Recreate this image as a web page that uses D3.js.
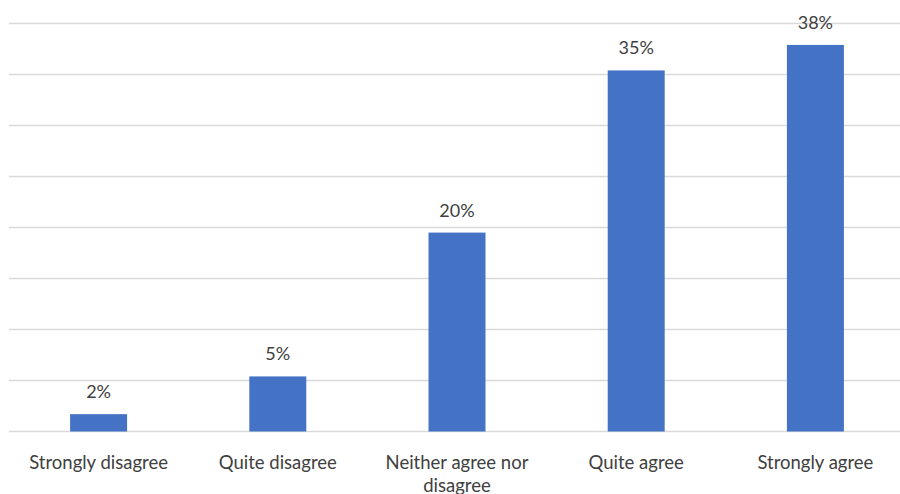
<!DOCTYPE html>
<html><head><meta charset="utf-8">
<script src="https://cdn.jsdelivr.net/npm/d3@7"></script>
<style>html,body{margin:0;padding:0;background:#fff;overflow:hidden}</style>
</head><body>
<svg id="c" width="900" height="494"></svg>
<script>
const categories = ["Strongly disagree", "Quite disagree", "Neither agree nor disagree", "Quite agree", "Strongly agree"];
const values = [1.7, 5.4, 19.5, 35.4, 37.9];
const tickValues = [0, 5, 10, 15, 20, 25, 30, 35, 40];

const svg = d3.select("#c");
const font = "Lato, 'Open Sans', sans-serif";
const x = d3.scaleBand().domain(categories).range([9, 905]).paddingInner(0.682).paddingOuter(0.341);
const y = d3.scaleLinear().domain([0, 40]).range([431.5, 23.5]);

svg.append("g").selectAll("line").data(tickValues).join("line")
  .attr("x1", 9).attr("x2", 905)
  .attr("y1", d => y(d)).attr("y2", d => y(d))
  .attr("stroke", "#d9d9d9").attr("stroke-width", 1.3);

svg.append("g").selectAll("rect").data(values).join("rect")
  .attr("x", (d, i) => x(categories[i]))
  .attr("width", x.bandwidth())
  .attr("y", d => y(d))
  .attr("height", d => y(0) - y(d))
  .attr("fill", "#4472c4");

svg.append("g").selectAll("text").data(values).join("text")
  .attr("x", (d, i) => x(categories[i]) + x.bandwidth() / 2)
  .attr("y", d => y(d) - 16)
  .attr("text-anchor", "middle")
  .attr("font-family", font).attr("font-size", 18).attr("fill", "#404040")
  .text(d => Math.round(d) + "%");

const wrap = {"Neither agree nor disagree": ["Neither agree nor", "disagree"]};
const lab = svg.append("g").selectAll("text").data(categories).join("text")
  .attr("x", d => x(d) + x.bandwidth() / 2)
  .attr("y", 469)
  .attr("text-anchor", "middle")
  .attr("font-family", font).attr("font-size", 18.5).attr("fill", "#404040");
lab.each(function(d) {
  const lines = wrap[d] || [d];
  d3.select(this).selectAll("tspan").data(lines).join("tspan")
    .attr("x", x(d) + x.bandwidth() / 2)
    .attr("dy", (l, i) => i === 0 ? 0 : 23)
    .text(l => l);
});
</script>
</body></html>
